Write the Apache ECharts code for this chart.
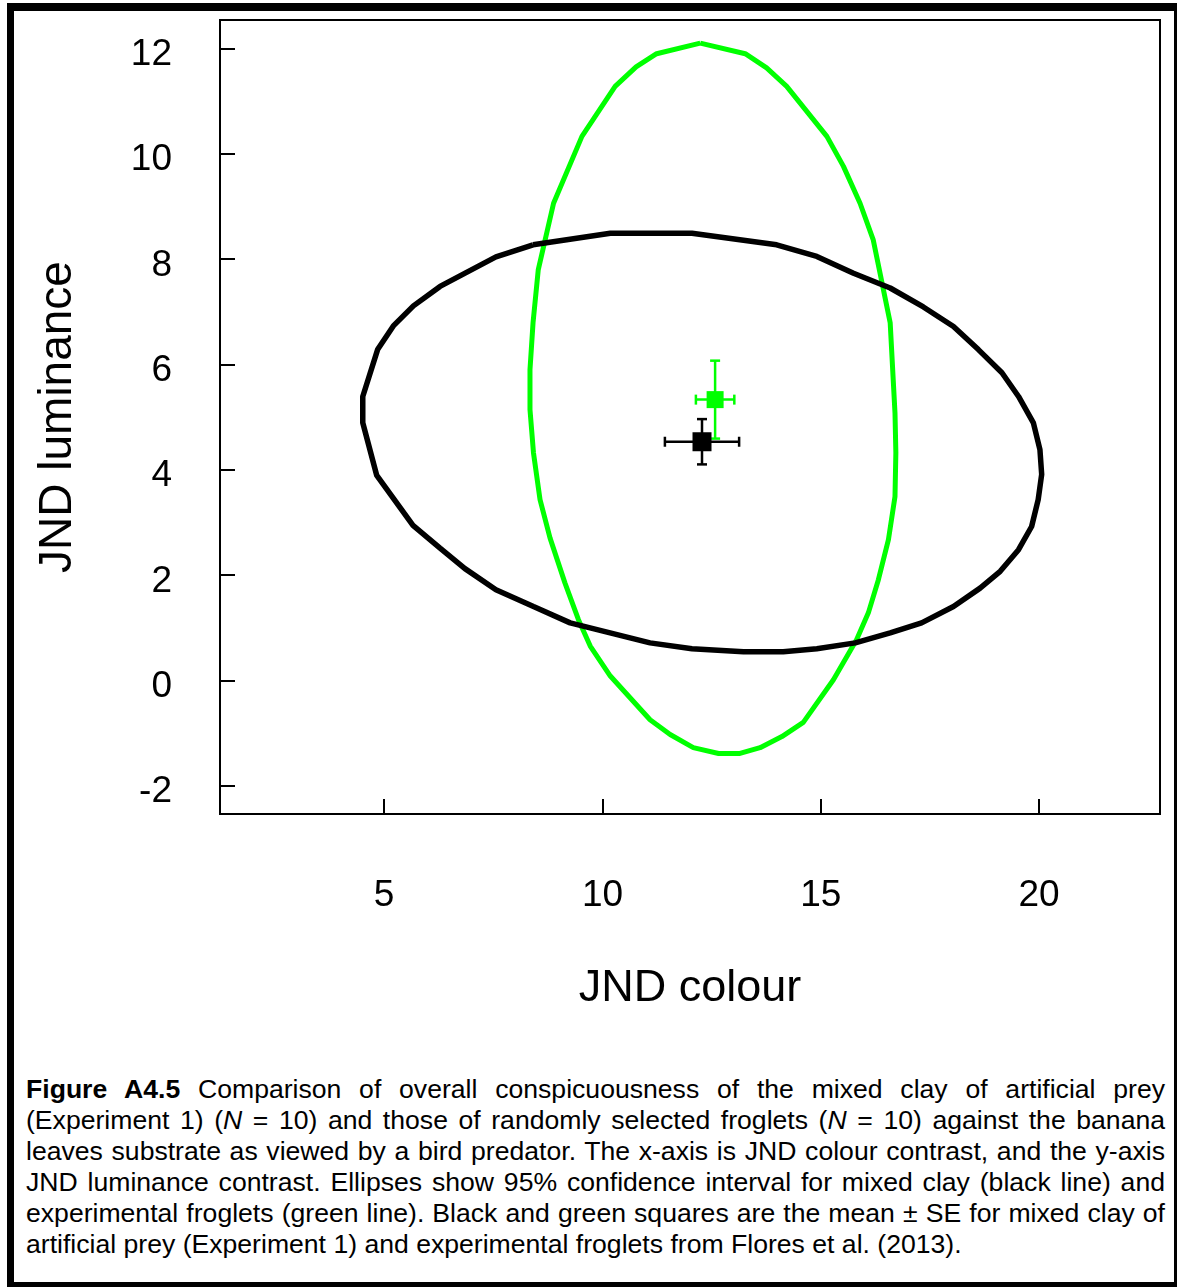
<!DOCTYPE html>
<html>
<head>
<meta charset="utf-8">
<script src="https://cdn.jsdelivr.net/npm/echarts@6/dist/echarts.min.js"></script>
<style>
  html, body { margin: 0; padding: 0; background: #fff; }
  #wrap { position: relative; width: 1177px; height: 1287px; overflow: hidden; }
  #chart { position: absolute; left: 0; top: 0; width: 1177px; height: 1060px; }
  #frame { position: absolute; left: 7px; top: 3px; width: 1170px; height: 1284px; box-sizing: border-box;
           border-left: 7px solid #000; border-top: 8px solid #000; border-right: 3px solid #000; border-bottom: 5px solid #000;
           pointer-events: none; }
  #cap { position: absolute; left: 26px; top: 1074px; width: 1139px; font-family: "Liberation Sans", Arial, sans-serif;
         font-size: 26.6px; line-height: 31px; color: #000; }
  #cap span { display: block; text-align: justify; text-align-last: justify; white-space: nowrap; }
  #cap span.last { text-align-last: left; }
</style>
</head>
<body>
<div id="wrap">
  <div id="chart"></div>
  <div id="cap">
    <span><b>Figure A4.5</b> Comparison of overall conspicuousness of the mixed clay of artificial prey</span>
    <span>(Experiment 1) (<i>N</i> = 10) and those of randomly selected froglets (<i>N</i> = 10) against the banana</span>
    <span>leaves substrate as viewed by a bird predator. The x-axis is JND colour contrast, and the y-axis</span>
    <span>JND luminance contrast. Ellipses show 95% confidence interval for mixed clay (black line) and</span>
    <span>experimental froglets (green line). Black and green squares are the mean ± SE for mixed clay of</span>
    <span class="last">artificial prey (Experiment 1) and experimental froglets from Flores et al. (2013).</span>
  </div>
  <div id="frame"></div>
</div>
<script>
// ---- Data ----
const xTicks = [5, 10, 15, 20];
const yTicks = [-2, 0, 2, 4, 6, 8, 10, 12];

// 95% confidence ellipse, mixed clay (black line) - polygon vertices [JND colour, JND luminance]
const blackEllipse = [
  [8.41, 8.27], [10.18, 8.49], [12.05, 8.49], [13.99, 8.27], [14.91, 8.05], [15.75, 7.73],
  [16.59, 7.45], [17.35, 7.09], [18.04, 6.72], [18.61, 6.28], [19.15, 5.84], [19.53, 5.39],
  [19.87, 4.89], [20.02, 4.38], [20.06, 3.91], [19.98, 3.43], [19.83, 2.92], [19.53, 2.48],
  [19.11, 2.07], [18.65, 1.75], [18.04, 1.40], [17.31, 1.09], [16.59, 0.90], [15.79, 0.71],
  [14.91, 0.60], [14.14, 0.54], [13.23, 0.54], [12.05, 0.60], [11.09, 0.71], [9.26, 1.09],
  [8.42, 1.40], [7.56, 1.72], [6.85, 2.12], [6.28, 2.51], [5.66, 2.94], [4.83, 3.89],
  [4.51, 4.89], [4.51, 5.39], [4.85, 6.28], [5.21, 6.73], [5.67, 7.11], [6.28, 7.48],
  [7.56, 8.04], [8.41, 8.27]
];

// 95% confidence ellipse, experimental froglets (green line)
const greenEllipse = [
  [12.24, 12.10], [13.27, 11.90], [13.76, 11.63], [14.22, 11.28], [15.14, 10.33], [15.52, 9.76],
  [15.90, 9.06], [16.20, 8.37], [16.59, 6.79], [16.70, 5.08], [16.72, 4.32], [16.70, 3.49],
  [16.55, 2.67], [16.32, 1.91], [16.09, 1.28], [15.82, 0.77], [15.29, 0.01], [14.60, -0.80],
  [14.11, -1.07], [13.61, -1.28], [13.15, -1.39], [12.66, -1.39], [12.08, -1.28], [11.55, -1.03],
  [11.09, -0.75], [10.18, 0.08], [9.72, 0.65], [9.45, 1.15], [9.14, 1.85], [8.80, 2.70],
  [8.57, 3.43], [8.42, 4.32], [8.34, 5.14], [8.34, 5.90], [8.41, 6.79], [8.53, 7.80],
  [8.88, 9.06], [9.53, 10.33], [10.29, 11.28], [10.77, 11.65], [11.24, 11.90], [12.24, 12.10]
];

// Means and standard errors [x, y, seX, seY]
const blackMean = [12.28, 4.53, 0.85, 0.43];
const greenMean = [12.58, 5.33, 0.44, 0.74];

// ---- Chart ----
const FONT = '"Liberation Sans", Arial, sans-serif';
const chart = echarts.init(document.getElementById('chart'), null, { renderer: 'canvas' });

function errorBarRenderer(color, width) {
  return function (params, api) {
    const x = api.value(0), y = api.value(1), ex = api.value(2), ey = api.value(3);
    const l = api.coord([x - ex, y]), r = api.coord([x + ex, y]);
    const t = api.coord([x, y + ey]), b = api.coord([x, y - ey]);
    const cap = 5;
    const st = { stroke: color, lineWidth: width };
    const seg = (x1, y1, x2, y2) => ({ type: 'line', shape: { x1, y1, x2, y2 }, style: st });
    return {
      type: 'group',
      children: [
        seg(l[0], l[1], r[0], r[1]),
        seg(t[0], t[1], b[0], b[1]),
        seg(l[0], l[1] - cap, l[0], l[1] + cap),
        seg(r[0], r[1] - cap, r[0], r[1] + cap),
        seg(t[0] - cap, t[1], t[0] + cap, t[1]),
        seg(b[0] - cap, b[1], b[0] + cap, b[1])
      ]
    };
  };
}

const option = {
  animation: false,
  grid: { left: 220, top: 20, width: 940, height: 794, show: true, borderColor: '#000', borderWidth: 2, backgroundColor: 'transparent' },
  xAxis: {
    type: 'value', min: 1.24, max: 22.77, position: 'bottom',
    axisLine: { show: false, onZero: false },
    splitLine: { show: false },
    axisTick: { show: true, inside: true, length: 15, customValues: xTicks, lineStyle: { color: '#000', width: 2 } },
    axisLabel: { show: true, customValues: xTicks, margin: 63, fontSize: 37, color: '#000', fontFamily: FONT },
    name: 'JND colour', nameLocation: 'middle', nameGap: 152,
    nameTextStyle: { fontSize: 45, color: '#000', fontFamily: FONT }
  },
  yAxis: {
    type: 'value', min: -2.54, max: 12.54, position: 'left',
    axisLine: { show: false, onZero: false },
    splitLine: { show: false },
    axisTick: { show: true, inside: true, length: 15, customValues: yTicks, lineStyle: { color: '#000', width: 2 } },
    axisLabel: {
      show: true, customValues: yTicks, margin: 48, fontSize: 37, color: '#000', fontFamily: FONT,
      formatter: function (v) { return '{v|' + v + '}'; },
      rich: { v: { fontSize: 37, color: '#000', fontFamily: FONT, lineHeight: 37, padding: [13, 0, 0, 0] } }
    },
    name: 'JND luminance', nameLocation: 'middle', nameGap: 139, nameRotate: 90,
    nameTextStyle: { fontSize: 46, color: '#000', fontFamily: FONT }
  },
  series: [
    { type: 'line', data: greenEllipse, showSymbol: false, smooth: false, lineStyle: { color: '#00ff00', width: 5 }, z: 2 },
    { type: 'line', data: blackEllipse, showSymbol: false, smooth: false, lineStyle: { color: '#000000', width: 5.5 }, z: 3 },
    { type: 'custom', renderItem: errorBarRenderer('#000', 2.5), data: [blackMean], z: 4 },
    { type: 'scatter', data: [[blackMean[0], blackMean[1]]], symbol: 'rect', symbolSize: 19, itemStyle: { color: '#000', opacity: 1 }, z: 5 },
    { type: 'custom', renderItem: errorBarRenderer('#00ff00', 2.5), data: [greenMean], z: 4 },
    { type: 'scatter', data: [[greenMean[0], greenMean[1]]], symbol: 'rect', symbolSize: 17, itemStyle: { color: '#00ff00', opacity: 1 }, z: 5 }
  ]
};
chart.setOption(option);
</script>
</body>
</html>
